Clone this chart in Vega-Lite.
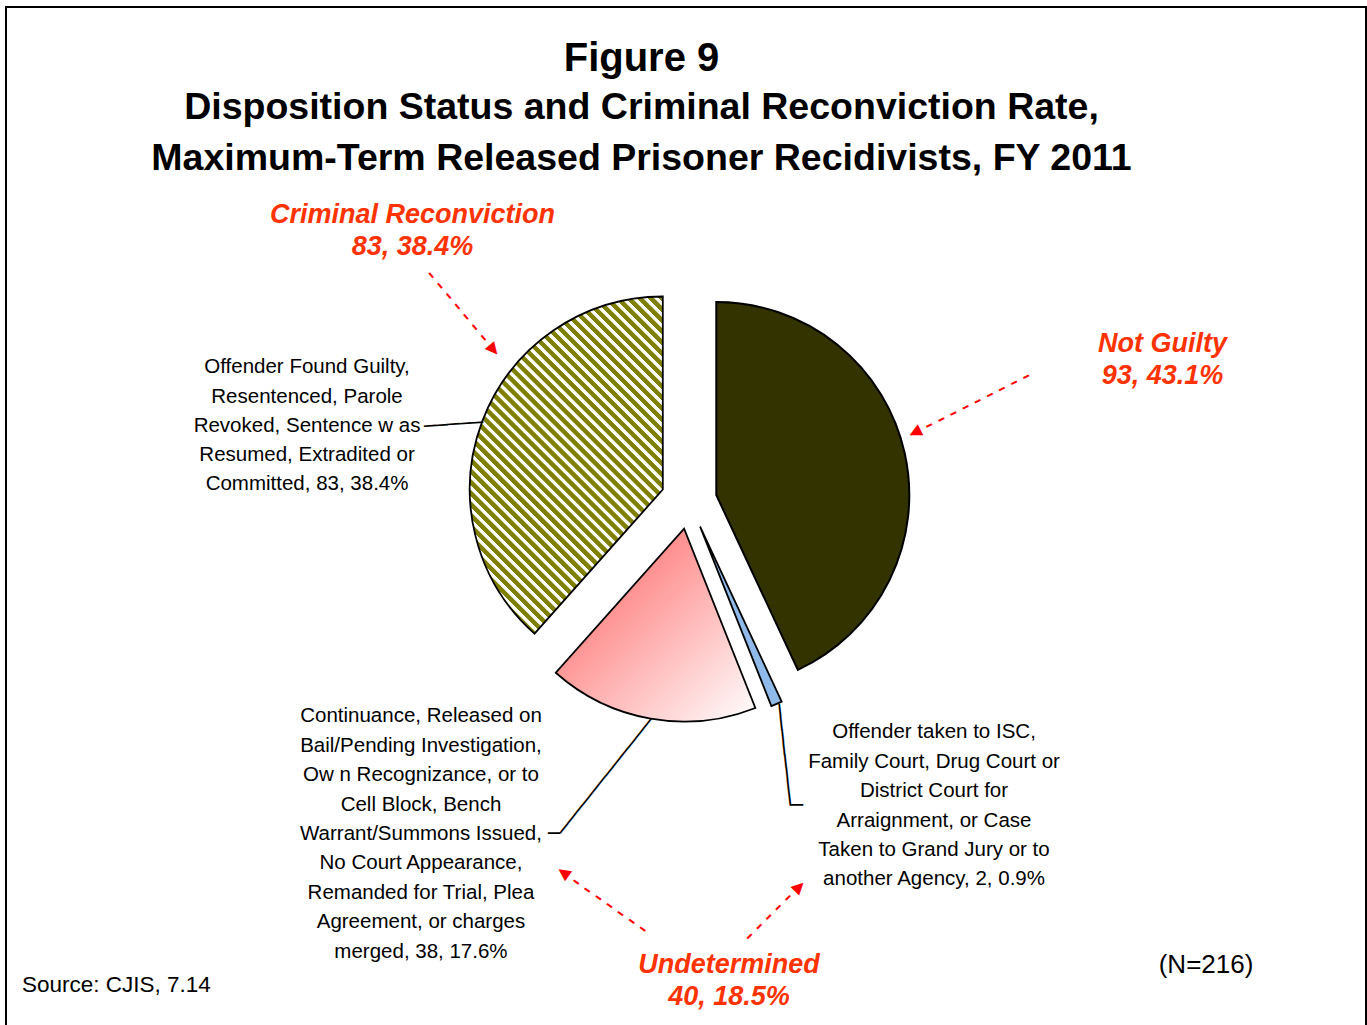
{
  "$schema": "https://vega.github.io/schema/vega-lite/v6.json",
  "width": 1360,
  "height": 1025,
  "autosize": "none",
  "padding": {"left": 6, "top": 7, "right": 1, "bottom": 0},
  "background": "#ffffff",
  "view": {"stroke": "#000000", "strokeWidth": 2},
  "title": {
    "text": "Figure 9",
    "subtitle": ["Disposition Status and Criminal Reconviction Rate,", "Maximum-Term Released Prisoner Recidivists, FY 2011"],
    "font": "Liberation Sans", "fontSize": 40, "fontWeight": "bold", "color": "#000000",
    "subtitleFont": "Liberation Sans", "subtitleFontSize": 37.5, "subtitleFontWeight": "bold", "subtitleColor": "#000000",
    "subtitleLineHeight": 51, "subtitlePadding": 10,
    "anchor": "middle", "frame": "group", "offset": -170, "dx": -44.5
  },
  "data": {"values": [
    {"category": "Not Guilty", "order": 1, "count": 93, "label": "", "groupLabel": "Not Guilty\n93, 43.1%"},
    {"category": "Transferred", "order": 2, "count": 2, "label": "Offender  taken to ISC,\nFamily Court, Drug Court or\nDistrict Court for\nArraignment, or Case\nTaken to Grand Jury or to\nanother Agency, 2, 0.9%", "groupLabel": ""},
    {"category": "Continuance", "order": 3, "count": 38, "label": "Continuance, Released on\nBail/Pending Investigation,\nOw n Recognizance, or to\nCell Block, Bench\nWarrant/Summons Issued,\nNo Court Appearance,\nRemanded for Trial, Plea\nAgreement, or charges\nmerged, 38, 17.6%", "groupLabel": "Undetermined\n40, 18.5%"},
    {"category": "Criminal Reconviction", "order": 4, "count": 83, "label": "Offender Found Guilty,\nResentenced, Parole\nRevoked, Sentence w as\nResumed, Extradited or\nCommitted, 83, 38.4%", "groupLabel": "Criminal Reconviction\n83, 38.4%"}
  ]},
  "transform": [
    {"stack": "count", "groupby": [], "sort": [{"field": "order", "order": "ascending"}], "as": ["start", "end"]},
    {"calculate": "(datum.start + datum.end) / 2", "as": "mid"}
  ],
  "layer": [
    {
      "transform": [{"filter": "datum.category === 'Not Guilty'"}],
      "mark": {"type": "arc", "radius": 193, "xOffset": 30.3, "yOffset": -24.5, "fill": "#333300", "stroke": "#000000", "strokeWidth": 2},
      "encoding": {"theta": {"field": "start", "type": "quantitative", "stack": null, "scale": {"type": "linear", "domain": [0, 216], "nice": false}}, "theta2": {"field": "end"}}
    },
    {
      "transform": [{"filter": "datum.category === 'Transferred'"}],
      "mark": {"type": "arc", "radius": 193, "xOffset": 14.1, "yOffset": 7.2, "fill": "#8fbae9", "stroke": "#000000", "strokeWidth": 1.8},
      "encoding": {"theta": {"field": "start", "type": "quantitative", "stack": null, "scale": {"type": "linear", "domain": [0, 216], "nice": false}}, "theta2": {"field": "end"}}
    },
    {
      "transform": [{"filter": "datum.category === 'Continuance'"}],
      "mark": {"type": "arc", "radius": 193, "xOffset": -1.9, "yOffset": 9.1, "stroke": "#000000", "strokeWidth": 1.8,
        "fill": {"gradient": "linear", "x1": 0, "y1": 0, "x2": 1, "y2": 1, "stops": [{"offset": 0, "color": "#ff8080"}, {"offset": 0.25, "color": "#ff8282"}, {"offset": 1, "color": "#ffffff"}]}},
      "encoding": {"theta": {"field": "start", "type": "quantitative", "stack": null, "scale": {"type": "linear", "domain": [0, 216], "nice": false}}, "theta2": {"field": "end"}}
    },
    {
      "transform": [{"filter": "datum.category === 'Criminal Reconviction'"}],
      "mark": {"type": "arc", "radius": 193, "xOffset": -23.2, "yOffset": -30, "stroke": "#000000", "strokeWidth": 1.8,
        "fill": {"gradient": "linear", "x1": 0, "y1": 0.85025, "x2": 0.70513, "y2": -0.3817, "stops": [
          {"offset": 0, "color": "#808000"}, {"offset": 0.01, "color": "#808000"}, {"offset": 0.012, "color": "#ffffff"}, {"offset": 0.019, "color": "#ffffff"},
          {"offset": 0.02, "color": "#808000"}, {"offset": 0.03, "color": "#808000"}, {"offset": 0.032, "color": "#ffffff"}, {"offset": 0.039, "color": "#ffffff"},
          {"offset": 0.04, "color": "#808000"}, {"offset": 0.05, "color": "#808000"}, {"offset": 0.052, "color": "#ffffff"}, {"offset": 0.059, "color": "#ffffff"},
          {"offset": 0.06, "color": "#808000"}, {"offset": 0.07, "color": "#808000"}, {"offset": 0.072, "color": "#ffffff"}, {"offset": 0.079, "color": "#ffffff"},
          {"offset": 0.08, "color": "#808000"}, {"offset": 0.09, "color": "#808000"}, {"offset": 0.092, "color": "#ffffff"}, {"offset": 0.099, "color": "#ffffff"},
          {"offset": 0.1, "color": "#808000"}, {"offset": 0.11, "color": "#808000"}, {"offset": 0.112, "color": "#ffffff"}, {"offset": 0.119, "color": "#ffffff"},
          {"offset": 0.12, "color": "#808000"}, {"offset": 0.13, "color": "#808000"}, {"offset": 0.132, "color": "#ffffff"}, {"offset": 0.139, "color": "#ffffff"},
          {"offset": 0.14, "color": "#808000"}, {"offset": 0.15, "color": "#808000"}, {"offset": 0.152, "color": "#ffffff"}, {"offset": 0.159, "color": "#ffffff"},
          {"offset": 0.16, "color": "#808000"}, {"offset": 0.17, "color": "#808000"}, {"offset": 0.172, "color": "#ffffff"}, {"offset": 0.179, "color": "#ffffff"},
          {"offset": 0.18, "color": "#808000"}, {"offset": 0.19, "color": "#808000"}, {"offset": 0.192, "color": "#ffffff"}, {"offset": 0.199, "color": "#ffffff"},
          {"offset": 0.2, "color": "#808000"}, {"offset": 0.21, "color": "#808000"}, {"offset": 0.212, "color": "#ffffff"}, {"offset": 0.219, "color": "#ffffff"},
          {"offset": 0.22, "color": "#808000"}, {"offset": 0.23, "color": "#808000"}, {"offset": 0.232, "color": "#ffffff"}, {"offset": 0.239, "color": "#ffffff"},
          {"offset": 0.24, "color": "#808000"}, {"offset": 0.25, "color": "#808000"}, {"offset": 0.252, "color": "#ffffff"}, {"offset": 0.259, "color": "#ffffff"},
          {"offset": 0.26, "color": "#808000"}, {"offset": 0.27, "color": "#808000"}, {"offset": 0.272, "color": "#ffffff"}, {"offset": 0.279, "color": "#ffffff"},
          {"offset": 0.28, "color": "#808000"}, {"offset": 0.29, "color": "#808000"}, {"offset": 0.292, "color": "#ffffff"}, {"offset": 0.299, "color": "#ffffff"},
          {"offset": 0.3, "color": "#808000"}, {"offset": 0.31, "color": "#808000"}, {"offset": 0.312, "color": "#ffffff"}, {"offset": 0.319, "color": "#ffffff"},
          {"offset": 0.32, "color": "#808000"}, {"offset": 0.33, "color": "#808000"}, {"offset": 0.332, "color": "#ffffff"}, {"offset": 0.339, "color": "#ffffff"},
          {"offset": 0.34, "color": "#808000"}, {"offset": 0.35, "color": "#808000"}, {"offset": 0.352, "color": "#ffffff"}, {"offset": 0.359, "color": "#ffffff"},
          {"offset": 0.36, "color": "#808000"}, {"offset": 0.37, "color": "#808000"}, {"offset": 0.372, "color": "#ffffff"}, {"offset": 0.379, "color": "#ffffff"},
          {"offset": 0.38, "color": "#808000"}, {"offset": 0.39, "color": "#808000"}, {"offset": 0.392, "color": "#ffffff"}, {"offset": 0.399, "color": "#ffffff"},
          {"offset": 0.4, "color": "#808000"}, {"offset": 0.41, "color": "#808000"}, {"offset": 0.412, "color": "#ffffff"}, {"offset": 0.419, "color": "#ffffff"},
          {"offset": 0.42, "color": "#808000"}, {"offset": 0.43, "color": "#808000"}, {"offset": 0.432, "color": "#ffffff"}, {"offset": 0.439, "color": "#ffffff"},
          {"offset": 0.44, "color": "#808000"}, {"offset": 0.45, "color": "#808000"}, {"offset": 0.452, "color": "#ffffff"}, {"offset": 0.459, "color": "#ffffff"},
          {"offset": 0.46, "color": "#808000"}, {"offset": 0.47, "color": "#808000"}, {"offset": 0.472, "color": "#ffffff"}, {"offset": 0.479, "color": "#ffffff"},
          {"offset": 0.48, "color": "#808000"}, {"offset": 0.49, "color": "#808000"}, {"offset": 0.492, "color": "#ffffff"}, {"offset": 0.499, "color": "#ffffff"},
          {"offset": 0.5, "color": "#808000"}, {"offset": 0.51, "color": "#808000"}, {"offset": 0.512, "color": "#ffffff"}, {"offset": 0.519, "color": "#ffffff"},
          {"offset": 0.52, "color": "#808000"}, {"offset": 0.53, "color": "#808000"}, {"offset": 0.532, "color": "#ffffff"}, {"offset": 0.539, "color": "#ffffff"},
          {"offset": 0.54, "color": "#808000"}, {"offset": 0.55, "color": "#808000"}, {"offset": 0.552, "color": "#ffffff"}, {"offset": 0.559, "color": "#ffffff"},
          {"offset": 0.56, "color": "#808000"}, {"offset": 0.57, "color": "#808000"}, {"offset": 0.572, "color": "#ffffff"}, {"offset": 0.579, "color": "#ffffff"},
          {"offset": 0.58, "color": "#808000"}, {"offset": 0.59, "color": "#808000"}, {"offset": 0.592, "color": "#ffffff"}, {"offset": 0.599, "color": "#ffffff"},
          {"offset": 0.6, "color": "#808000"}, {"offset": 0.61, "color": "#808000"}, {"offset": 0.612, "color": "#ffffff"}, {"offset": 0.619, "color": "#ffffff"},
          {"offset": 0.62, "color": "#808000"}, {"offset": 0.63, "color": "#808000"}, {"offset": 0.632, "color": "#ffffff"}, {"offset": 0.639, "color": "#ffffff"},
          {"offset": 0.64, "color": "#808000"}, {"offset": 0.65, "color": "#808000"}, {"offset": 0.652, "color": "#ffffff"}, {"offset": 0.659, "color": "#ffffff"},
          {"offset": 0.66, "color": "#808000"}, {"offset": 0.67, "color": "#808000"}, {"offset": 0.672, "color": "#ffffff"}, {"offset": 0.679, "color": "#ffffff"},
          {"offset": 0.68, "color": "#808000"}, {"offset": 0.69, "color": "#808000"}, {"offset": 0.692, "color": "#ffffff"}, {"offset": 0.699, "color": "#ffffff"},
          {"offset": 0.7, "color": "#808000"}, {"offset": 0.71, "color": "#808000"}, {"offset": 0.712, "color": "#ffffff"}, {"offset": 0.719, "color": "#ffffff"},
          {"offset": 0.72, "color": "#808000"}, {"offset": 0.73, "color": "#808000"}, {"offset": 0.732, "color": "#ffffff"}, {"offset": 0.739, "color": "#ffffff"},
          {"offset": 0.74, "color": "#808000"}, {"offset": 0.75, "color": "#808000"}, {"offset": 0.752, "color": "#ffffff"}, {"offset": 0.759, "color": "#ffffff"},
          {"offset": 0.76, "color": "#808000"}, {"offset": 0.77, "color": "#808000"}, {"offset": 0.772, "color": "#ffffff"}, {"offset": 0.779, "color": "#ffffff"},
          {"offset": 0.78, "color": "#808000"}, {"offset": 0.79, "color": "#808000"}, {"offset": 0.792, "color": "#ffffff"}, {"offset": 0.799, "color": "#ffffff"},
          {"offset": 0.8, "color": "#808000"}, {"offset": 0.81, "color": "#808000"}, {"offset": 0.812, "color": "#ffffff"}, {"offset": 0.819, "color": "#ffffff"},
          {"offset": 0.82, "color": "#808000"}, {"offset": 0.83, "color": "#808000"}, {"offset": 0.832, "color": "#ffffff"}, {"offset": 0.839, "color": "#ffffff"},
          {"offset": 0.84, "color": "#808000"}, {"offset": 0.85, "color": "#808000"}, {"offset": 0.852, "color": "#ffffff"}, {"offset": 0.859, "color": "#ffffff"},
          {"offset": 0.86, "color": "#808000"}, {"offset": 0.87, "color": "#808000"}, {"offset": 0.872, "color": "#ffffff"}, {"offset": 0.879, "color": "#ffffff"},
          {"offset": 0.88, "color": "#808000"}, {"offset": 0.89, "color": "#808000"}, {"offset": 0.892, "color": "#ffffff"}, {"offset": 0.899, "color": "#ffffff"},
          {"offset": 0.9, "color": "#808000"}, {"offset": 0.91, "color": "#808000"}, {"offset": 0.912, "color": "#ffffff"}, {"offset": 0.919, "color": "#ffffff"},
          {"offset": 0.92, "color": "#808000"}, {"offset": 0.93, "color": "#808000"}, {"offset": 0.932, "color": "#ffffff"}, {"offset": 0.939, "color": "#ffffff"},
          {"offset": 0.94, "color": "#808000"}, {"offset": 0.95, "color": "#808000"}, {"offset": 0.952, "color": "#ffffff"}, {"offset": 0.959, "color": "#ffffff"},
          {"offset": 0.96, "color": "#808000"}, {"offset": 0.97, "color": "#808000"}, {"offset": 0.972, "color": "#ffffff"}, {"offset": 0.979, "color": "#ffffff"},
          {"offset": 0.98, "color": "#808000"}, {"offset": 0.99, "color": "#808000"}, {"offset": 0.992, "color": "#ffffff"}, {"offset": 0.999, "color": "#ffffff"},
          {"offset": 1, "color": "#808000"}
        ]}},
      "encoding": {"theta": {"field": "start", "type": "quantitative", "stack": null, "scale": {"type": "linear", "domain": [0, 216], "nice": false}}, "theta2": {"field": "end"}}
    },
    {
      "transform": [{"filter": "datum.category === 'Criminal Reconviction'"}],
      "mark": {"type": "text", "radius": 406, "dx": 0.5, "dy": -1.8, "align": "center", "baseline": "alphabetic", "font": "Liberation Sans", "fontSize": 20.5, "lineHeight": 29.3, "lineBreak": "\n", "fill": "#000000"},
      "encoding": {"theta": {"field": "mid", "type": "quantitative", "stack": null, "scale": {"type": "linear", "domain": [0, 216], "nice": false}}, "text": {"field": "label", "type": "nominal"}}
    },
    {
      "transform": [{"filter": "datum.category === 'Continuance'"}],
      "mark": {"type": "text", "radius": 246, "dx": -222.3, "dy": -39.4, "align": "center", "baseline": "alphabetic", "font": "Liberation Sans", "fontSize": 20.5, "lineHeight": 29.4, "lineBreak": "\n", "fill": "#000000"},
      "encoding": {"theta": {"field": "mid", "type": "quantitative", "stack": null, "scale": {"type": "linear", "domain": [0, 216], "nice": false}}, "text": {"field": "label", "type": "nominal"}}
    },
    {
      "transform": [{"filter": "datum.category === 'Transferred'"}],
      "mark": {"type": "text", "radius": 299, "dx": 129.6, "dy": -55.6, "align": "center", "baseline": "alphabetic", "font": "Liberation Sans", "fontSize": 20.5, "lineHeight": 29.4, "lineBreak": "\n", "fill": "#000000"},
      "encoding": {"theta": {"field": "mid", "type": "quantitative", "stack": null, "scale": {"type": "linear", "domain": [0, 216], "nice": false}}, "text": {"field": "label", "type": "nominal"}}
    },
    {
      "transform": [{"filter": "datum.category === 'Criminal Reconviction'"}],
      "mark": {"type": "text", "radius": 361, "dx": 63.9, "dy": -168.4, "align": "center", "baseline": "alphabetic", "font": "Liberation Sans", "fontSize": 27, "fontWeight": "bold", "fontStyle": "italic", "lineHeight": 32, "lineBreak": "\n", "fill": "#ff3300"},
      "encoding": {"theta": {"field": "mid", "type": "quantitative", "stack": null, "scale": {"type": "linear", "domain": [0, 216], "nice": false}}, "text": {"field": "groupLabel", "type": "nominal"}}
    },
    {
      "transform": [{"filter": "datum.category === 'Not Guilty'"}],
      "mark": {"type": "text", "radius": 501, "dx": -12.6, "dy": -59.1, "align": "center", "baseline": "alphabetic", "font": "Liberation Sans", "fontSize": 27, "fontWeight": "bold", "fontStyle": "italic", "lineHeight": 32, "lineBreak": "\n", "fill": "#ff3300"},
      "encoding": {"theta": {"field": "mid", "type": "quantitative", "stack": null, "scale": {"type": "linear", "domain": [0, 216], "nice": false}}, "text": {"field": "groupLabel", "type": "nominal"}}
    },
    {
      "transform": [{"filter": "datum.category === 'Continuance'"}],
      "mark": {"type": "text", "radius": 439, "dx": 119.2, "dy": 21.2, "align": "center", "baseline": "alphabetic", "font": "Liberation Sans", "fontSize": 27, "fontWeight": "bold", "fontStyle": "italic", "lineHeight": 32, "lineBreak": "\n", "fill": "#ff3300"},
      "encoding": {"theta": {"field": "mid", "type": "quantitative", "stack": null, "scale": {"type": "linear", "domain": [0, 216], "nice": false}}, "text": {"field": "groupLabel", "type": "nominal"}}
    },
    {
      "transform": [{"filter": "datum.category === 'Continuance'"}],
      "mark": {"type": "text", "text": "Source: CJIS, 7.14", "radius": 439, "dx": -587.8, "dy": 39.9, "align": "left", "baseline": "alphabetic", "font": "Liberation Sans", "fontSize": 22.5, "fill": "#000000"},
      "encoding": {"theta": {"field": "mid", "type": "quantitative", "stack": null, "scale": {"type": "linear", "domain": [0, 216], "nice": false}}}
    },
    {
      "transform": [{"filter": "datum.category === 'Transferred'"}],
      "mark": {"type": "text", "text": "(N=216)", "radius": 500, "dx": 322, "dy": -5.6, "align": "center", "baseline": "alphabetic", "font": "Liberation Sans", "fontSize": 26, "fill": "#000000"},
      "encoding": {"theta": {"field": "mid", "type": "quantitative", "stack": null, "scale": {"type": "linear", "domain": [0, 216], "nice": false}}}
    },
    {
      "transform": [{"filter": "datum.category === 'Criminal Reconviction'"}],
      "mark": {"type": "text", "text": "– – – – – – – ▶", "radius": 235, "angle": 50, "dx": -42.4, "dy": -76.9, "align": "right", "baseline": "middle", "font": "DejaVu Sans", "fontWeight": "bold", "fontSize": 16, "fill": "#ff0000"},
      "encoding": {"theta": {"field": "mid", "type": "quantitative", "stack": null, "scale": {"type": "linear", "domain": [0, 216], "nice": false}}}
    },
    {
      "transform": [{"filter": "datum.category === 'Not Guilty'"}],
      "mark": {"type": "text", "text": "– – – – – – – – – ▶", "radius": 237, "angle": 153.23, "dx": -7.9, "dy": 32.1, "align": "right", "baseline": "middle", "font": "DejaVu Sans", "fontWeight": "bold", "fontSize": 16, "fill": "#ff0000"},
      "encoding": {"theta": {"field": "mid", "type": "quantitative", "stack": null, "scale": {"type": "linear", "domain": [0, 216], "nice": false}}}
    },
    {
      "transform": [{"filter": "datum.category === 'Continuance'"}],
      "mark": {"type": "text", "text": "– – – – – – – ▶", "radius": 367, "angle": 215.27, "dx": 58.8, "dy": -28.2, "align": "right", "baseline": "middle", "font": "DejaVu Sans", "fontWeight": "bold", "fontSize": 16, "fill": "#ff0000"},
      "encoding": {"theta": {"field": "mid", "type": "quantitative", "stack": null, "scale": {"type": "linear", "domain": [0, 216], "nice": false}}}
    },
    {
      "transform": [{"filter": "datum.category === 'Transferred'"}],
      "mark": {"type": "text", "text": "– – – – – ▶", "radius": 379, "angle": 315, "dx": -33.7, "dy": -13.2, "align": "right", "baseline": "middle", "font": "DejaVu Sans", "fontWeight": "bold", "fontSize": 16, "fill": "#ff0000"},
      "encoding": {"theta": {"field": "mid", "type": "quantitative", "stack": null, "scale": {"type": "linear", "domain": [0, 216], "nice": false}}}
    },
    {
      "transform": [{"filter": "datum.category === 'Criminal Reconviction'"}],
      "mark": {"type": "text", "text": "─────", "radius": 278, "angle": 356.12, "dx": -2.6, "dy": 6.2, "align": "left", "baseline": "middle", "font": "DejaVu Sans", "fontSize": 19.7, "fill": "#000000"},
      "encoding": {"theta": {"field": "mid", "type": "quantitative", "stack": null, "scale": {"type": "linear", "domain": [0, 216], "nice": false}}}
    },
    {
      "transform": [{"filter": "datum.category === 'Continuance'"}],
      "mark": {"type": "text", "text": "─", "radius": 333, "angle": 0, "dx": -80.2, "dy": -13.4, "align": "left", "baseline": "middle", "font": "DejaVu Sans", "fontSize": 20, "fill": "#000000"},
      "encoding": {"theta": {"field": "mid", "type": "quantitative", "stack": null, "scale": {"type": "linear", "domain": [0, 216], "nice": false}}}
    },
    {
      "transform": [{"filter": "datum.category === 'Continuance'"}],
      "mark": {"type": "text", "text": "────────────", "radius": 333, "angle": 308.6, "dx": -31.3, "dy": -61.3, "align": "left", "baseline": "middle", "font": "DejaVu Sans", "fontSize": 20.2, "fill": "#000000"},
      "encoding": {"theta": {"field": "mid", "type": "quantitative", "stack": null, "scale": {"type": "linear", "domain": [0, 216], "nice": false}}}
    },
    {
      "transform": [{"filter": "datum.category === 'Transferred'"}],
      "mark": {"type": "text", "text": "────────", "radius": 206, "angle": 83.78, "dx": -3.4, "dy": -10.8, "align": "left", "baseline": "middle", "font": "DejaVu Sans", "fontSize": 21.1, "fill": "#000000"},
      "encoding": {"theta": {"field": "mid", "type": "quantitative", "stack": null, "scale": {"type": "linear", "domain": [0, 216], "nice": false}}}
    },
    {
      "transform": [{"filter": "datum.category === 'Transferred'"}],
      "mark": {"type": "text", "text": "─", "radius": 303, "angle": 0, "dx": -16, "dy": 8.3, "align": "left", "baseline": "middle", "font": "DejaVu Sans", "fontSize": 21.6, "fill": "#000000"},
      "encoding": {"theta": {"field": "mid", "type": "quantitative", "stack": null, "scale": {"type": "linear", "domain": [0, 216], "nice": false}}}
    }
  ]
}
